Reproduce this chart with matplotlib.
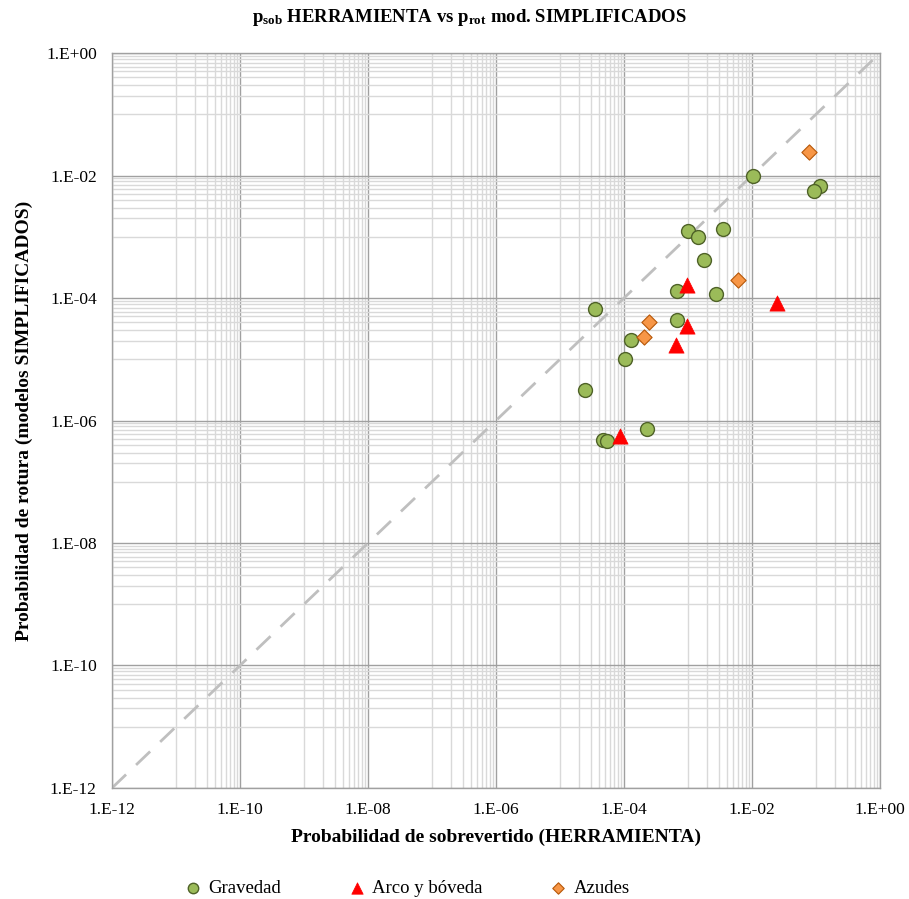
import numpy as np
import matplotlib
matplotlib.use("Agg")
from matplotlib import pyplot as plt
from matplotlib.ticker import FixedLocator, FixedFormatter, NullFormatter

plt.rcParams['font.family'] = ['Liberation Serif', 'DejaVu Serif']
plt.rcParams['mathtext.fontset'] = 'custom'
plt.rcParams['mathtext.rm'] = 'Liberation Serif:bold'
plt.rcParams['mathtext.it'] = 'Liberation Serif:bold'
plt.rcParams['mathtext.bf'] = 'Liberation Serif:bold'

# datos
grav_x = [1.05e-2, 1.155e-1, 9.3e-2, 9.9e-4, 1.43e-3, 3.56e-3, 1.78e-3, 6.8e-4, 2.74e-3,
          3.52e-5, 6.8e-4, 1.29e-4, 1.05e-4, 2.49e-5, 2.29e-4, 4.75e-5, 5.36e-5]
grav_y = [9.9e-3, 6.74e-3, 5.52e-3, 1.26e-3, 9.8e-4, 1.32e-3, 4.17e-4, 1.3e-4, 1.16e-4,
          6.6e-5, 4.32e-5, 2.04e-5, 1.01e-5, 3.15e-6, 7.35e-7, 4.8e-7, 4.63e-7]
arco_x = [9.5e-4, 2.49e-2, 9.75e-4, 6.56e-4, 8.66e-5]
arco_y = [1.63e-4, 8.2e-5, 3.53e-5, 1.71e-5, 5.65e-7]
azud_x = [7.85e-2, 5.97e-3, 2.43e-4, 2.07e-4]
azud_y = [2.39e-2, 1.97e-4, 4.06e-5, 2.31e-5]

lim = [1e-12, 1e0]
majors = [10.0 ** e for e in range(-12, 1, 2)]
etiquetas = ['1.E-12', '1.E-10', '1.E-08', '1.E-06', '1.E-04', '1.E-02', '1.E+00']
minors = [10.0 ** (e + 1) * k for e in range(-12, 0, 2) for k in range(1, 10)]

fig = plt.figure(figsize=(9.09, 8.99), dpi=100)
ax = fig.add_axes([0.1232, 0.1235, 0.8449, 0.8175])
ax.set_xscale('log')
ax.set_yscale('log')
ax.set_xlim(lim)
ax.set_ylim(lim)

for axis in (ax.xaxis, ax.yaxis):
    axis.set_major_locator(FixedLocator(majors))
    axis.set_major_formatter(FixedFormatter(etiquetas))
    axis.set_minor_locator(FixedLocator(minors))
    axis.set_minor_formatter(NullFormatter())

ax.grid(which='minor', color='#d9d9d9', lw=1.0, zorder=0)
ax.grid(which='major', color='#a0a0a0', lw=1.0, zorder=0)
ax.tick_params(which='both', length=0, labelsize=12.5, colors='#000000')
ax.tick_params(axis='x', pad=10)
ax.tick_params(axis='y', pad=11)
for s in ax.spines.values():
    s.set_color('#a0a0a0')
    s.set_linewidth(1.0)
ax.set_axisbelow(True)

ax.plot(lim, lim, color='#bfbfbf', lw=2, dashes=(7, 5), zorder=1)

ax.scatter(grav_x, grav_y, s=100, marker='o', facecolor='#9bbb59', edgecolor='#4f6228',
           lw=1.0, zorder=3, label='Gravedad')
ax.scatter(arco_x, arco_y, s=120, marker='^', facecolor='#ff0000', edgecolor='#ff0000',
           lw=0.5, zorder=3, label='Arco y bóveda')
ax.scatter(azud_x, azud_y, s=60, marker='D', facecolor='#f79646', edgecolor='#b65708',
           lw=0.8, zorder=3, label='Azudes')

ax.set_xlabel('Probabilidad de sobrevertido (HERRAMIENTA)', fontsize=14, fontweight='bold', labelpad=8)
ax.set_ylabel('Probabilidad de rotura (modelos SIMPLIFICADOS)', fontsize=14, fontweight='bold', labelpad=9)
fig.text(0.517, 0.981, r'$\mathrm{p_{sob}}$ HERRAMIENTA vs $\mathrm{p_{rot}}$ mod. SIMPLIFICADOS',
         fontsize=13.5, fontweight='bold', ha='center', va='center')

leg = fig.legend(loc='center', bbox_to_anchor=(0.448, 0.0122), ncol=3, frameon=False,
                 fontsize=13.5, handlelength=0.9, handletextpad=0.35, columnspacing=3.6,
                 markerscale=0.75)

fig.savefig('out.png', dpi=100)
